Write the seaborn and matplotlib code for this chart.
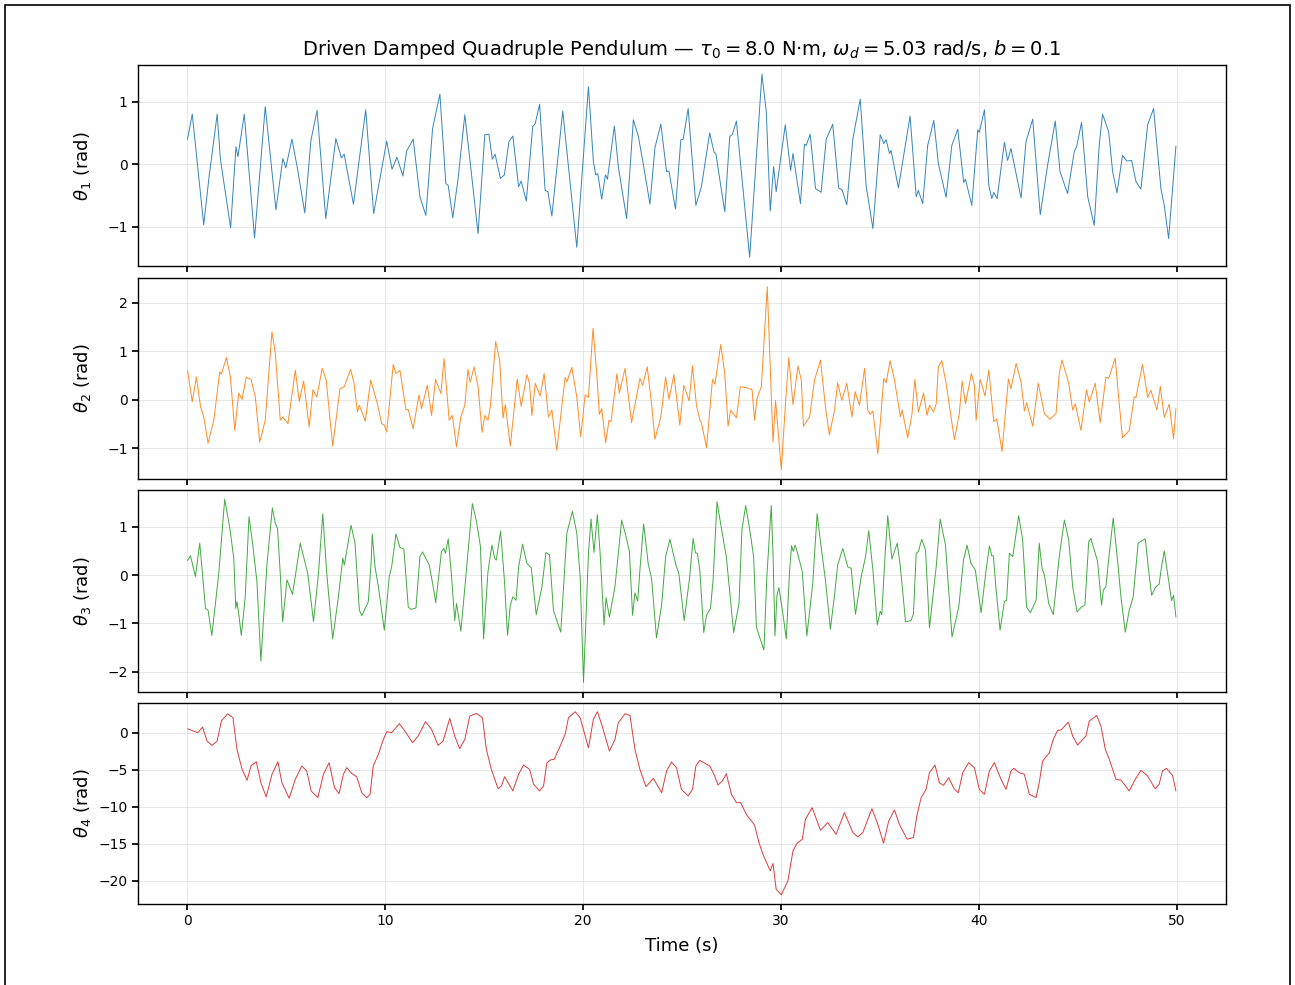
import numpy as np
import pandas as pd
import matplotlib
matplotlib.use("Agg")
import matplotlib.pyplot as plt
from matplotlib.patches import Rectangle
import seaborn as sns

# ---- data (time in s, angle in rad) ----
t1 = [0.00, 0.24, 0.82, 1.08, 1.50, 1.66, 2.18, 2.45, 2.55, 2.87, 3.39, 3.93, 4.47, 4.82, 4.97, 5.28, 5.56, 5.93,
      6.24, 6.55, 6.99, 7.50, 7.78, 7.92, 8.39, 9.01, 9.41, 10.07, 10.34, 10.59, 10.89, 11.08, 11.41, 11.75, 12.05,
      12.39, 12.76, 13.06, 13.18, 13.41, 13.68, 14.02, 14.27, 14.69, 15.03, 15.24, 15.41, 15.55, 15.82, 16.02, 16.25,
      16.45, 16.74, 16.87, 17.13, 17.45, 17.58, 17.80, 18.08, 18.22, 18.42, 18.97, 19.68, 19.97, 20.27, 20.52, 20.64,
      20.74, 20.94, 21.13, 21.23, 21.58, 21.78, 22.20, 22.54, 22.79, 23.01, 23.38, 23.63, 23.93, 24.22, 24.34, 24.67,
      24.94, 25.06, 25.31, 25.70, 25.98, 26.40, 26.62, 26.71, 27.16, 27.41, 27.55, 27.75, 28.00, 28.42, 29.04, 29.26,
      29.46, 29.63, 29.76, 30.22, 30.49, 30.61, 30.99, 31.19, 31.28, 31.48, 31.75, 32.03, 32.29, 32.62, 32.92, 33.09,
      33.33, 33.64, 34.01, 34.31, 34.65, 35.02, 35.20, 35.32, 35.49, 35.57, 35.94, 36.53, 36.84, 36.95, 37.17, 37.42,
      37.73, 37.96, 38.35, 38.64, 38.94, 39.24, 39.33, 39.65, 39.95, 40.03, 40.29, 40.51, 40.66, 40.76, 40.93, 41.30,
      41.46, 41.63, 42.14, 42.39, 42.73, 43.11, 43.48, 43.87, 44.11, 44.49, 44.83, 44.95, 45.20, 45.51, 45.84, 46.09,
      46.26, 46.57, 46.77, 46.99, 47.27, 47.49, 47.73, 47.95, 48.20, 48.54, 48.84, 49.21, 49.38, 49.60, 49.97]
theta1 = [0.40, 0.80, -0.97, -0.23, 0.80, 0.09, -1.02, 0.28, 0.12, 0.80, -1.18, 0.92, -0.73, 0.09, -0.06, 0.40, -0.07, -0.78,
          0.38, 0.86, -0.87, 0.41, 0.10, 0.16, -0.64, 0.87, -0.79, 0.37, -0.08, 0.11, -0.19, 0.21, 0.40, -0.52, -0.82,
          0.57, 1.12, -0.31, -0.34, -0.86, -0.23, 0.79, 0.09, -1.11, 0.47, 0.48, 0.08, 0.16, -0.23, -0.17, 0.36,
          0.45, -0.36, -0.27, -0.59, 0.60, 0.65, 0.96, -0.42, -0.44, -0.83, 0.85, -1.33, -0.07, 1.24, 0.04, -0.17,
          -0.15, -0.56, -0.17, -0.24, 0.61, -0.04, -0.87, 0.71, 0.45, 0.06, -0.64, 0.26, 0.64, -0.12, -0.11, -0.72,
          0.39, 0.40, 0.89, -0.66, -0.36, 0.50, 0.19, 0.17, -0.76, 0.44, 0.48, 0.69, -0.12, -1.49, 1.44, 0.84,
          -0.75, -0.04, -0.44, 0.63, -0.10, 0.17, -0.63, 0.32, 0.30, 0.48, -0.39, -0.45, 0.40, 0.64, -0.38, -0.41,
          -0.65, 0.41, 1.04, -0.35, -1.03, 0.47, 0.33, 0.39, 0.17, 0.22, -0.38, 0.77, -0.52, -0.42, -0.63, 0.30,
          0.70, 0.01, -0.53, 0.30, 0.56, -0.29, -0.24, -0.66, 0.55, 0.51, 0.87, -0.34, -0.55, -0.45, -0.55, 0.35,
          0.06, 0.25, -0.54, 0.36, 0.72, -0.81, -0.02, 0.69, -0.12, -0.47, 0.20, 0.28, 0.67, -0.52, -0.98, 0.30,
          0.80, 0.52, -0.12, -0.46, 0.14, 0.05, 0.06, -0.28, -0.40, 0.63, 0.89, -0.39, -0.66, -1.19, 0.29]

t2 = [0.00, 0.24, 0.45, 0.66, 0.82, 1.04, 1.33, 1.63, 1.71, 1.97, 2.17, 2.39, 2.59, 2.76, 2.97, 3.21, 3.43, 3.65, 3.93,
      4.27, 4.44, 4.69, 4.81, 5.08, 5.45, 5.65, 5.87, 6.15, 6.34, 6.54, 6.81, 7.01, 7.34, 7.71, 7.92, 8.25, 8.42, 8.59,
      8.69, 8.99, 9.26, 9.60, 9.82, 9.95, 10.07, 10.40, 10.54, 10.74, 11.04, 11.16, 11.41, 11.70, 11.83, 12.12, 12.34,
      12.54, 12.81, 12.97, 13.23, 13.39, 13.60, 13.82, 14.02, 14.18, 14.29, 14.49, 14.69, 14.89, 15.03, 15.19, 15.31,
      15.58, 15.78, 15.95, 16.07, 16.32, 16.67, 16.87, 17.16, 17.29, 17.41, 17.58, 17.83, 18.03, 18.25, 18.42, 18.67,
      19.09, 19.18, 19.43, 19.68, 19.88, 20.10, 20.27, 20.50, 20.69, 20.82, 20.94, 21.14, 21.31, 21.41, 21.71, 21.83,
      22.12, 22.45, 22.87, 23.01, 23.24, 23.46, 23.63, 23.93, 24.17, 24.34, 24.59, 24.89, 25.09, 25.36, 25.53, 25.73,
      25.90, 25.98, 26.24, 26.54, 26.66, 26.96, 27.16, 27.33, 27.46, 27.75, 27.95, 28.25, 28.54, 28.67, 28.79, 29.01,
      29.31, 29.60, 29.73, 30.02, 30.24, 30.40, 30.61, 30.86, 31.03, 31.14, 31.45, 31.70, 32.00, 32.25, 32.45, 32.71,
      32.87, 33.08, 33.33, 33.59, 33.75, 33.97, 34.23, 34.39, 34.51, 34.65, 34.90, 35.20, 35.32, 35.52, 35.74, 36.04,
      36.13, 36.41, 36.63, 36.77, 36.95, 37.21, 37.39, 37.51, 37.71, 37.85, 37.96, 38.13, 38.35, 38.77, 39.02, 39.16,
      39.33, 39.63, 39.78, 39.87, 40.07, 40.32, 40.51, 40.76, 40.91, 41.18, 41.50, 41.63, 41.89, 42.14, 42.31, 42.42,
      42.73, 43.01, 43.32, 43.60, 43.91, 44.07, 44.21, 44.55, 44.75, 44.88, 45.17, 45.45, 45.59, 45.89, 46.14, 46.43,
      46.57, 46.90, 47.07, 47.27, 47.61, 47.86, 47.95, 48.28, 48.54, 48.70, 49.01, 49.18, 49.38, 49.63, 49.85, 49.97]
theta2 = [0.61, -0.04, 0.47, -0.14, -0.35, -0.89, -0.42, 0.58, 0.53, 0.87, 0.47, -0.63, 0.14, 0.01, 0.47, 0.42, 0.06, -0.87, -0.42,
          1.40, 0.96, -0.42, -0.35, -0.49, 0.61, -0.03, 0.39, -0.56, 0.21, 0.06, 0.65, 0.41, -0.95, 0.23, 0.27, 0.63, 0.34, -0.25,
          -0.11, -0.44, 0.41, -0.08, -0.49, -0.52, -0.66, 0.73, 0.54, 0.61, -0.20, -0.20, -0.59, 0.10, -0.18, 0.30, -0.32,
          0.42, 0.13, 0.85, -0.42, -0.32, -0.97, -0.35, -0.11, 0.63, 0.36, 0.68, 0.27, -0.67, -0.32, -0.42, -0.14,
          1.20, 0.82, -0.37, -0.10, -0.95, 0.43, -0.13, 0.52, 0.34, -0.32, 0.34, 0.08, 0.54, -0.35, -0.21, -1.04,
          0.46, 0.37, 0.67, 0.06, -0.76, 0.10, 0.05, 1.47, 0.54, -0.30, -0.18, -0.88, -0.42, -0.45, 0.54, 0.14,
          0.65, -0.47, 0.44, 0.30, 0.68, -0.08, -0.81, -0.35, 0.47, 0.01, 0.52, -0.52, 0.30, -0.02, 0.70, -0.11,
          -0.41, -0.47, -0.98, 0.42, 0.32, 1.14, 0.54, -0.54, -0.21, -0.37, 0.27, 0.25, 0.21, -0.42, 0.03, 0.27,
          2.33, -0.87, -0.01, -1.44, -0.01, 0.87, -0.10, 0.70, 0.41, -0.54, -0.35, 0.41, 0.82, -0.14, -0.72, -0.21,
          0.35, -0.01, 0.34, -0.35, 0.17, -0.11, 0.65, -0.21, -0.30, -0.23, -1.11, 0.44, 0.35, 0.81, 0.41, -0.35,
          -0.21, -0.78, -0.28, 0.42, -0.25, 0.14, -0.32, -0.11, -0.25, -0.08, 0.68, 0.81, 0.34, -0.82, -0.28, 0.39,
          -0.08, 0.54, 0.30, -0.42, 0.42, 0.08, 0.61, -0.45, -0.39, -1.06, 0.43, 0.23, 0.75, 0.37, -0.23, -0.06,
          -0.54, 0.34, -0.28, -0.40, -0.28, 0.54, 0.82, 0.34, -0.21, -0.08, -0.63, 0.21, -0.04, 0.34, -0.47, 0.47,
          0.44, 0.86, 0.06, -0.78, -0.63, 0.06, 0.05, 0.73, 0.05, 0.20, -0.21, 0.28, -0.36, -0.09, -0.80, -0.18]

t3 = [0.00, 0.15, 0.40, 0.62, 0.91, 1.04, 1.23, 1.58, 1.88, 2.13, 2.34, 2.44, 2.50, 2.59, 2.72, 2.92, 3.11, 3.31, 3.51,
      3.71, 4.02, 4.29, 4.44, 4.55, 4.69, 4.81, 5.03, 5.31, 5.70, 5.87, 6.08, 6.37, 6.62, 6.84, 7.04, 7.34, 7.63, 7.85,
      7.93, 8.27, 8.47, 8.69, 8.81, 9.14, 9.28, 9.34, 9.48, 9.65, 9.95, 10.20, 10.32, 10.54, 10.74, 10.94, 11.16, 11.29,
      11.55, 11.75, 11.88, 12.22, 12.39, 12.55, 12.84, 12.96, 13.04, 13.18, 13.34, 13.51, 13.60, 13.82, 14.10, 14.40,
      14.61, 14.81, 14.97, 15.19, 15.39, 15.53, 15.61, 15.83, 16.02, 16.18, 16.32, 16.45, 16.61, 16.74, 16.94, 17.16,
      17.38, 17.63, 17.92, 18.12, 18.30, 18.50, 18.87, 19.18, 19.46, 19.68, 19.85, 20.02, 20.27, 20.40, 20.55, 20.72,
      20.86, 21.06, 21.16, 21.33, 21.61, 21.95, 22.17, 22.34, 22.50, 22.62, 22.76, 22.87, 23.06, 23.29, 23.46, 23.71,
      23.97, 24.17, 24.39, 24.69, 24.84, 25.11, 25.39, 25.56, 25.68, 25.78, 25.90, 26.10, 26.24, 26.44, 26.57, 26.77,
      26.99, 27.24, 27.61, 27.88, 28.03, 28.22, 28.45, 28.62, 28.76, 28.92, 29.14, 29.29, 29.51, 29.60, 29.70, 29.80,
      29.90, 30.10, 30.27, 30.44, 30.54, 30.62, 30.72, 30.89, 31.08, 31.31, 31.61, 31.83, 32.03, 32.25, 32.50, 32.71,
      32.87, 33.13, 33.38, 33.55, 33.77, 34.06, 34.28, 34.44, 34.65, 34.87, 35.02, 35.10, 35.27, 35.40, 35.61, 35.88,
      36.04, 36.30, 36.58, 36.70, 36.84, 36.95, 37.12, 37.31, 37.51, 37.85, 38.05, 38.32, 38.65, 38.99, 39.23, 39.41,
      39.61, 39.83, 40.12, 40.37, 40.54, 40.66, 40.74, 40.88, 41.08, 41.30, 41.41, 41.55, 41.72, 42.02, 42.22, 42.42,
      42.61, 42.90, 43.06, 43.20, 43.32, 43.54, 43.77, 44.07, 44.33, 44.55, 44.75, 44.97, 45.17, 45.37, 45.56, 45.67,
      46.01, 46.21, 46.30, 46.43, 46.60, 46.80, 47.05, 47.19, 47.41, 47.61, 47.81, 48.06, 48.25, 48.42, 48.59, 48.74,
      48.96, 49.12, 49.24, 49.38, 49.55, 49.75, 49.85, 49.97]
theta3 = [0.30, 0.40, -0.03, 0.66, -0.69, -0.73, -1.25, 0.03, 1.57, 1.00, 0.35, -0.69, -0.55, -0.80, -1.25, -0.45, 1.21, 0.59, -0.14,
          -1.78, 0.24, 1.39, 1.07, 0.97, 0.03, -0.97, -0.10, -0.40, 0.66, 0.38, 0.03, -0.96, 0.03, 1.27, 0.03, -1.32, -0.45, 0.35,
          0.21, 1.03, 0.66, -0.73, -0.84, -0.55, 0.24, 0.85, 0.17, -0.24, -1.14, -0.03, 0.17, 0.85, 0.57, 0.54, -0.66, -0.71,
          -0.68, 0.38, 0.48, 0.21, -0.17, -0.57, 0.49, 0.55, 0.45, 0.75, 0.03, -0.94, -0.59, -1.16, 0.10, 1.48,
          1.11, 0.59, -1.32, 0.07, 0.62, 0.35, 0.31, 0.91, -0.10, -1.25, -0.62, -0.45, -0.52, 0.17, 0.64, 0.24,
          0.15, -0.82, -0.24, 0.47, 0.42, -0.73, -1.18, 0.87, 1.32, 0.87, -0.03, -2.22, 0.45, 1.16, 0.47, 1.25,
          0.45, -1.03, -0.47, -0.87, -0.24, 1.14, 0.80, 0.49, -0.83, -0.37, -0.54, 0.10, 1.06, 0.24, -0.07, -1.30,
          -0.62, 0.38, 0.74, 0.21, 0.03, -0.94, -0.03, 0.76, 0.46, 0.45, 0.10, -1.19, -0.83, -0.69, -0.10, 1.52,
          0.97, 0.38, -1.19, -0.59, 0.94, 1.44, 0.87, 0.38, -1.07, -1.28, -1.55, -0.03, 1.44, 0.45, -1.26, -0.42,
          -0.26, -0.80, -1.32, 0.10, 0.61, 0.49, 0.62, 0.38, 0.07, -1.26, -0.17, 1.27, 0.59, -0.10, -1.12, -0.42,
          0.21, 0.55, 0.17, 0.14, -0.81, -0.03, 0.38, 0.92, 0.10, -1.03, -0.75, -0.82, 0.45, 1.23, 0.33, 0.66,
          0.17, -0.97, -0.94, -0.80, 0.45, 0.49, 0.74, 0.52, -1.09, 0.17, 1.16, 0.62, -1.28, -0.66, 0.31, 0.62,
          0.24, 0.10, -0.78, 0.10, 0.60, 0.40, 0.40, -0.31, -1.14, -0.55, -0.52, 0.45, 0.38, 1.23, 0.73, -0.66,
          -0.78, -0.52, 0.66, 0.14, 0.00, -0.59, -0.82, 0.38, 1.14, 0.73, -0.24, -0.76, -0.67, -0.62, 0.69, 0.76,
          0.28, -0.62, -0.31, -0.24, 0.45, 1.18, 0.17, -0.45, -1.18, -0.73, -0.45, 0.66, 0.71, 0.75, 0.10, -0.42,
          -0.24, -0.19, 0.17, 0.50, 0.03, -0.53, -0.42, -0.87]

t4 = [0.00, 0.52, 0.76, 0.99, 1.24, 1.50, 1.71, 2.03, 2.30, 2.50, 2.76, 3.01, 3.21, 3.48, 3.71, 3.98, 4.27, 4.57, 4.77,
      5.14, 5.45, 5.78, 6.03, 6.25, 6.59, 6.87, 7.16, 7.43, 7.66, 7.88, 8.05, 8.30, 8.55, 8.81, 9.06, 9.23, 9.39, 9.65,
      9.87, 10.07, 10.32, 10.71, 10.99, 11.38, 11.66, 12.03, 12.34, 12.67, 12.92, 13.26, 13.51, 13.76, 14.02, 14.27,
      14.61, 14.91, 15.11, 15.36, 15.70, 15.87, 16.03, 16.45, 16.74, 16.99, 17.29, 17.50, 17.80, 18.00, 18.17, 18.34,
      18.54, 18.84, 19.09, 19.26, 19.60, 19.85, 20.27, 20.52, 20.72, 20.94, 21.33, 21.61, 21.78, 22.12, 22.37, 22.62,
      22.87, 23.18, 23.55, 23.97, 24.22, 24.47, 24.72, 24.97, 25.31, 25.53, 25.70, 25.90, 26.10, 26.40, 26.62, 26.82,
      27.04, 27.24, 27.50, 27.75, 27.97, 28.25, 28.67, 28.89, 29.09, 29.46, 29.60, 29.76, 30.02, 30.35, 30.61, 30.82,
      31.08, 31.24, 31.58, 32.00, 32.37, 32.79, 33.21, 33.64, 33.89, 34.14, 34.60, 34.87, 35.19, 35.45, 35.74, 35.99,
      36.38, 36.70, 36.87, 37.09, 37.34, 37.51, 37.79, 38.01, 38.22, 38.48, 38.77, 38.97, 39.19, 39.49, 39.78, 40.03,
      40.29, 40.54, 40.79, 41.13, 41.38, 41.63, 41.77, 42.05, 42.31, 42.56, 42.90, 43.06, 43.23, 43.57, 43.77, 43.99,
      44.16, 44.53, 44.75, 45.00, 45.42, 45.59, 45.96, 46.18, 46.40, 46.60, 46.94, 47.19, 47.61, 47.91, 48.20, 48.54,
      48.92, 49.12, 49.29, 49.49, 49.80, 49.97]
theta4 = [0.54, 0.00, 0.77, -1.13, -1.71, -1.13, 1.58, 2.57, 2.03, -2.25, -4.95, -6.44, -4.50, -3.92, -6.76, -8.69, -5.63, -3.92, -6.76,
          -8.87, -6.31, -4.50, -5.18, -7.88, -8.78, -5.63, -4.05, -7.43, -8.24, -5.63, -4.73, -5.50, -5.95, -8.11, -8.78, -8.33, -4.50, -2.93,
          -1.13, 0.14, 0.00, 1.22, 0.23, -1.35, -0.45, 1.49, 0.45, -1.71, -1.13, 1.94, -0.45, -2.16, -0.90, 2.25,
          2.61, 2.03, -2.25, -4.95, -7.57, -7.21, -5.95, -7.88, -5.63, -4.37, -4.95, -6.98, -7.88, -7.21, -4.05, -3.69,
          -3.60, -1.80, -0.23, 2.03, 2.84, 2.03, -2.03, 1.80, 2.84, 1.13, -2.48, -0.90, 1.35, 2.57, 2.34, -2.25,
          -4.95, -7.30, -6.17, -8.11, -5.18, -3.96, -4.73, -7.66, -8.56, -7.66, -4.50, -3.74, -4.05, -4.50, -5.63, -7.07,
          -6.53, -5.54, -8.33, -9.46, -9.46, -11.04, -12.52, -14.86, -16.44, -18.69, -17.70, -21.17, -21.94, -20.05, -15.99, -14.95,
          -14.41, -11.71, -10.14, -13.20, -12.16, -13.74, -10.81, -13.51, -14.10, -13.51, -10.27, -12.16, -14.95, -11.94, -10.45, -12.39,
          -14.41, -14.19, -11.26, -8.78, -7.66, -5.41, -4.37, -6.76, -7.12, -6.08, -7.66, -8.11, -5.41, -4.05, -4.73, -7.66,
          -8.33, -5.18, -4.05, -6.31, -7.66, -5.18, -4.82, -5.41, -5.63, -8.33, -8.78, -6.76, -3.83, -2.70, -0.90, 0.32,
          0.36, 1.44, -0.45, -1.67, -0.45, 1.58, 2.34, 0.90, -2.25, -3.60, -6.31, -6.40, -7.88, -6.31, -5.09, -5.86,
          -7.57, -6.98, -5.18, -4.82, -5.77, -7.88]

series = [(t1, theta1, r"$\theta_1$ (rad)", "#1f77b4"),
          (t2, theta2, r"$\theta_2$ (rad)", "#ff7f0e"),
          (t3, theta3, r"$\theta_3$ (rad)", "#2ca02c"),
          (t4, theta4, r"$\theta_4$ (rad)", "#d62728")]
y_ticks = [[-1, 0, 1], [-1, 0, 1, 2], [-2, -1, 0, 1], [-20, -15, -10, -5, 0]]
x_ticks = [0, 10, 20, 30, 40, 50]

sns.set_theme(style="ticks")
plt.rcParams["font.family"] = ["DejaVu Sans"]
plt.rcParams.update({"text.color": "black", "axes.labelcolor": "black",
                     "xtick.color": "black", "ytick.color": "black",
                     "axes.edgecolor": "black"})

fig, axes = plt.subplots(4, 1, figsize=(12.95, 9.85), dpi=100, sharex=True)
fig.subplots_adjust(left=0.1066, right=0.9467, top=0.934, bottom=0.0822, hspace=0.055)
fig.patches.append(Rectangle((0.0035, -0.02), 0.9930, 1.015, transform=fig.transFigure,
                             fill=False, edgecolor="black", linewidth=1.2, zorder=10))

for ax, (t, th, lab, col), yt in zip(axes, series, y_ticks):
    df = pd.DataFrame({"t": t, "theta": th})
    sns.lineplot(data=df, x="t", y="theta", ax=ax, color=col, linewidth=0.7,
                 estimator=None, sort=False, alpha=0.9)
    ax.set_ylabel(lab, fontsize=13)
    ax.set_xlabel("")
    ax.set_yticks(yt)
    ax.grid(True, color="#dddddd", linewidth=0.7, alpha=0.7)
    ax.tick_params(labelsize=10, direction="out", length=4, color="black", labelcolor="black")
    for sp in ax.spines.values():
        sp.set_visible(True)
        sp.set_color("black")
        sp.set_linewidth(1.0)
    ax.margins(x=0.05, y=0.05)

axes[-1].set_xticks(x_ticks)
axes[-1].set_xlim(-2.5, 52.5)
axes[-1].set_xlabel("Time (s)", fontsize=13, labelpad=6)
axes[0].set_title(r"Driven Damped Quadruple Pendulum — $\tau_0 = 8.0$ N·m, $\omega_d = 5.03$ rad/s, $b = 0.1$",
                  fontsize=14, color="black", pad=7)
fig.align_ylabels(axes)

fig.savefig("out.png", dpi=100)
